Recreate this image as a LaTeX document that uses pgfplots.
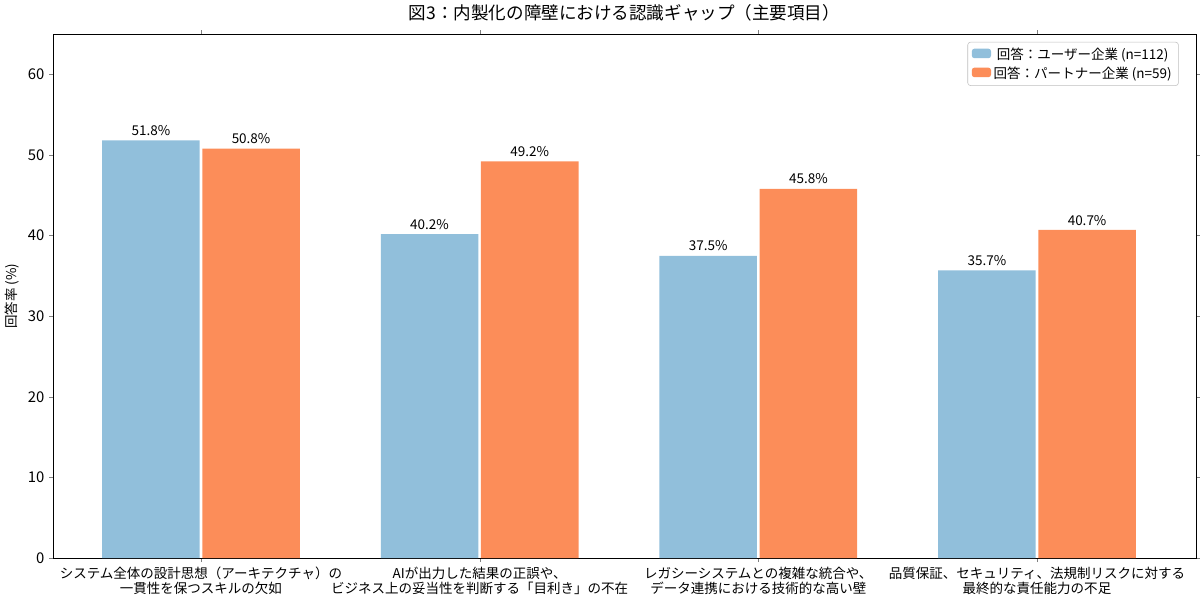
\documentclass[border=0pt]{standalone}
\usepackage{pgfplots}
\pgfplotsset{compat=1.18}
\usepackage{fontspec}
\setmainfont{Noto Sans CJK JP}
\begin{document}
\begin{tikzpicture}
\begin{axis}[
  scale only axis, width=846pt, height=388pt,
  ybar, bar width=0.35, bar shift auto,
  xmin=-0.53, xmax=3.57, ymin=0, ymax=65,
  xtick=data,
  xticklabels={{システム全体の設計思想（アーキテクチャ）の\\一貫性を保つスキルの欠如},{AIが出力した結果の正誤や、\\ビジネス上の妥当性を判断する「目利き」の不在},{レガシーシステムとの複雑な統合や、\\データ連携における技術的な高い壁},{品質保証、セキュリティ、法規制リスクに対する\\最終的な責任能力の不足}},
  xticklabel style={align=center, font=\fontsize{10}{11}\selectfont},
  yticklabel style={font=\fontsize{11}{12}\selectfont},
  ytick={0,10,...,60},
  /pgf/number format/assume math mode=true,
  ylabel={回答率 (\%)}, ylabel style={font=\fontsize{10}{12}\selectfont},
  title={図3：内製化の障壁における認識ギャップ（主要項目）},
  title style={font=\fontsize{13}{15}\selectfont},
  nodes near coords={\pgfmathprintnumber[fixed,precision=1,fixed zerofill]{\pgfplotspointmeta}\%},
  nodes near coords style={font=\fontsize{10}{12}\selectfont},
  legend style={at={(0.985,0.985)}, anchor=north east, font=\fontsize{10}{12}\selectfont, draw=black!25, rounded corners=2pt},
  legend image code/.code={\draw[#1,draw=none] (0cm,-0.1cm) rectangle (0.5cm,0.15cm);},
  tick align=outside, major tick length=3pt,
]
\addplot[fill=blue!10!cyan!20!black!0, fill={rgb,255:red,145;green,191;blue,219}, draw=none] coordinates {(0,51.8) (1,40.2) (2,37.5) (3,35.7)};
\addplot[fill={rgb,255:red,252;green,141;blue,89}, draw=none] coordinates {(0,50.8) (1,49.2) (2,45.8) (3,40.7)};
\legend{回答：ユーザー企業 (n=112), 回答：パートナー企業 (n=59)}
\end{axis}
\end{tikzpicture}
\end{document}
